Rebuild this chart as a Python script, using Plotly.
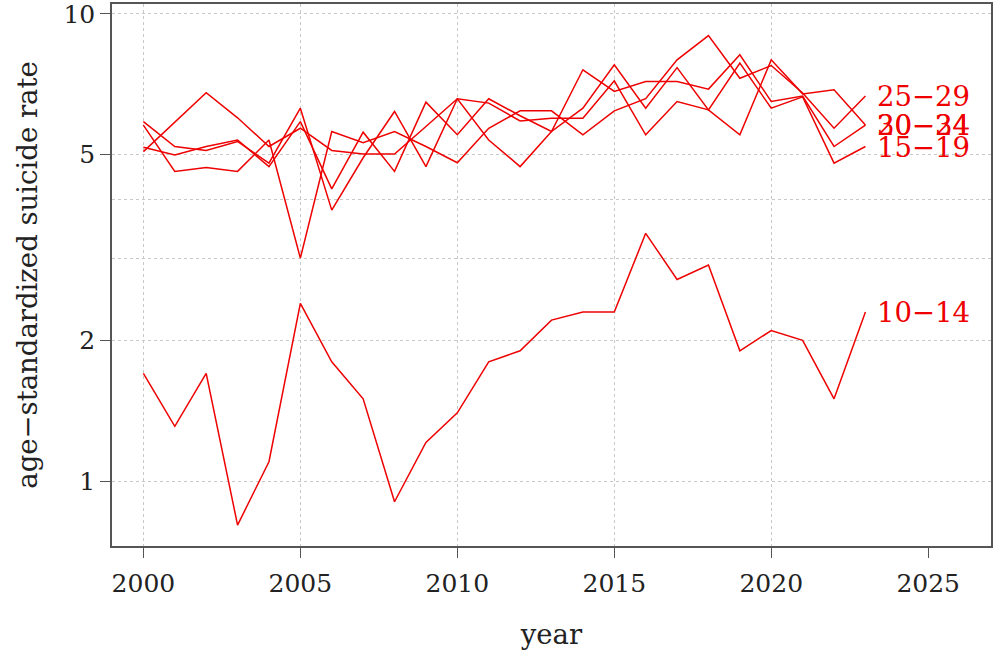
import numpy as np
import plotly.graph_objects as go

# данные
years = list(range(2000, 2024))
age_groups = ['10−14', '15−19', '20−24', '25−29', '30−34']
rate_10_14 = [1.70, 1.31, 1.70, 0.805, 1.10, 2.40, 1.80, 1.50, 0.903, 1.21, 1.40, 1.80,
              1.90, 2.21, 2.30, 2.30, 3.39, 2.70, 2.90, 1.90, 2.10, 2.00, 1.50, 2.30]
rate_15_19 = [5.07, 5.87, 6.78, 5.99, 5.20, 5.69, 5.10, 5.01, 5.01, 5.74, 6.58, 5.37,
              4.71, 5.60, 6.28, 7.78, 6.28, 7.67, 6.23, 7.84, 6.28, 6.64, 4.79, 5.20]
rate_20_24 = [5.88, 5.20, 5.10, 5.33, 4.79, 6.28, 3.80, 4.92, 6.18, 4.71, 6.58, 6.44,
              5.90, 5.98, 5.98, 7.19, 5.51, 6.49, 6.23, 5.51, 7.97, 6.74, 6.88, 5.78]
rate_25_29 = [5.78, 4.60, 4.69, 4.60, 5.37, 3.00, 5.60, 5.30, 5.60, 5.20, 4.80, 5.69,
              6.20, 6.20, 5.51, 6.20, 6.58, 7.97, 8.98, 7.28, 7.75, 6.77, 5.69, 6.67]
rate_30_34 = [5.18, 4.99, 5.20, 5.37, 4.71, 5.88, 4.22, 5.58, 4.60, 6.47, 5.51, 6.58,
              6.05, 5.60, 7.59, 6.82, 7.16, 7.16, 6.90, 8.17, 6.49, 6.67, 5.20, 5.78]
series = [rate_10_14, rate_15_19, rate_20_24, rate_25_29, rate_30_34]

x_ticks = [2000, 2005, 2010, 2015, 2020, 2025]
y_ticks = [1, 2, 5, 10]
y_grid_extra = [3, 4]

FONT = 'DejaVu Serif'
AXIS_COLOR = '#555555'
GRID_COLOR = '#c8c8c8'

fig = go.Figure()
for name, vals in zip(age_groups, series):
    fig.add_trace(go.Scatter(
        x=years, y=vals, mode='lines', name=name,
        line=dict(color='#ee0000', width=1.5)))
    # подпись в конце линии
    fig.add_annotation(
        x=years[-1] + 0.3, y=np.log10(vals[-1]), text=name,
        xanchor='left', yanchor='middle', showarrow=False,
        font=dict(family=FONT, size=27.5, color='#ee0000'))

fig.update_layout(
    width=1000, height=660,
    showlegend=False,
    plot_bgcolor='white', paper_bgcolor='white',
    margin=dict(l=112, r=9, t=4, b=114),
    font=dict(family=FONT, size=25, color='#222222'),
    xaxis=dict(
        title=dict(text='year', font=dict(family=FONT, size=27.5), standoff=28),
        range=[1999, 2027], tickvals=x_ticks, automargin=False,
        ticks='outside', ticklen=10, tickcolor=AXIS_COLOR, ticklabelstandoff=4,
        showgrid=False, zeroline=False,
        showline=True, linecolor=AXIS_COLOR, linewidth=1.5, mirror=True,
        minor=dict(tickvals=x_ticks[:-1], showgrid=True, gridcolor=GRID_COLOR,
                   griddash='dot', gridwidth=1, ticklen=0)),
    yaxis=dict(
        title=dict(text='age−standardized suicide rate', font=dict(family=FONT, size=27.5), standoff=18),
        type='log', range=[-0.139, 1.021], tickvals=y_ticks, automargin=False,
        ticklabeloverflow='allow',
        ticks='outside', ticklen=10, tickcolor=AXIS_COLOR,
        showgrid=True, gridcolor=GRID_COLOR, griddash='dot', gridwidth=1,
        zeroline=False,
        showline=True, linecolor=AXIS_COLOR, linewidth=1.5, mirror=True,
        minor=dict(tickvals=y_grid_extra, showgrid=True, gridcolor=GRID_COLOR,
                   griddash='dot', gridwidth=1, ticklen=0)),
)

# убрать отступ страницы, чтобы график стоял в углу окна
fig.write_html('out.html', config={'displayModeBar': False},
               post_script="document.body.style.margin='0';")
